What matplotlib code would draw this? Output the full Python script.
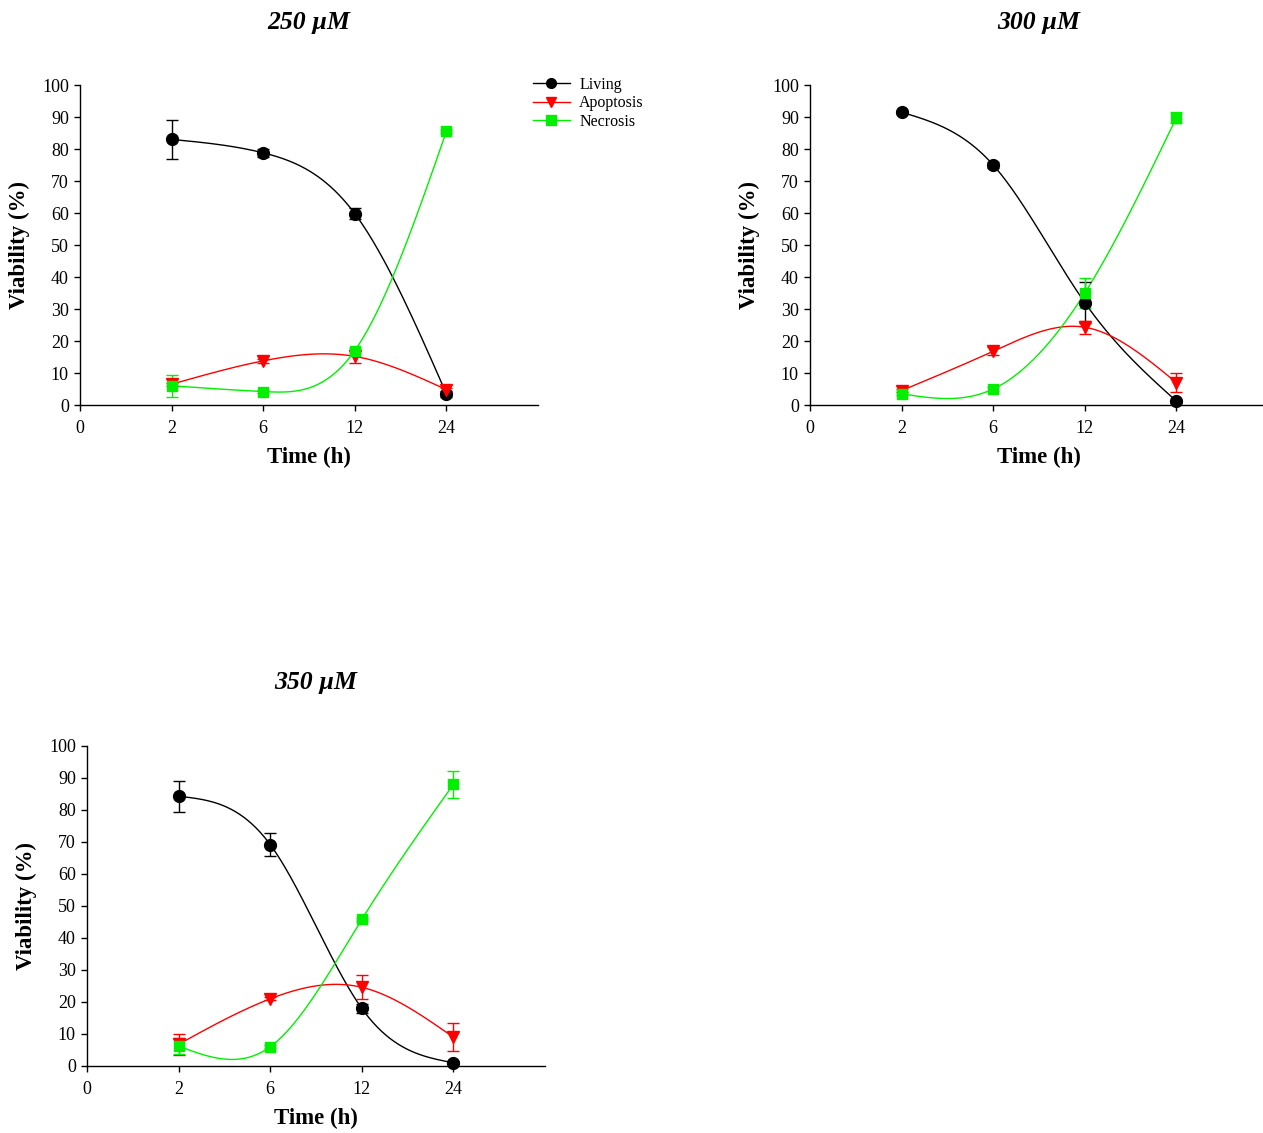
import matplotlib
matplotlib.use("Agg")
import matplotlib.pyplot as plt
import numpy as np

plt.rcParams['font.family'] = ['Liberation Serif', 'DejaVu Serif']

time_labels = ["0", "2", "6", "12", "24"]
series_names = ["Living", "Apoptosis", "Necrosis"]
series_colors = ["black", "#ff0000", "#00f000"]
series_markers = ["o", "v", "s"]

panel_titles = ["250 µM", "300 µM", "350 µM"]

# values at 2, 6, 12, 24 h
living_250 = [83.0, 78.8, 59.8, 3.5]
living_250_err = [6.0, 1.3, 1.8, 1.0]
apoptosis_250 = [6.5, 13.8, 15.2, 4.8]
apoptosis_250_err = [0.5, 0.6, 2.0, 0.6]
necrosis_250 = [6.0, 4.2, 17.0, 85.5]
necrosis_250_err = [3.5, 0.5, 0.8, 0.5]

living_300 = [91.5, 75.0, 32.0, 1.2]
living_300_err = [0.5, 0.8, 6.5, 0.5]
apoptosis_300 = [4.5, 16.8, 24.3, 7.0]
apoptosis_300_err = [0.5, 1.2, 2.0, 3.0]
necrosis_300 = [3.5, 5.0, 35.0, 89.8]
necrosis_300_err = [0.5, 0.5, 4.7, 1.8]

living_350 = [84.3, 69.2, 18.0, 1.0]
living_350_err = [4.8, 3.5, 1.5, 0.5]
apoptosis_350 = [6.8, 21.0, 24.6, 9.0]
apoptosis_350_err = [3.3, 0.5, 3.8, 4.3]
necrosis_350 = [6.2, 6.0, 45.8, 88.0]
necrosis_350_err = [2.5, 0.5, 0.5, 4.3]

panels = [
    [(living_250, living_250_err), (apoptosis_250, apoptosis_250_err), (necrosis_250, necrosis_250_err)],
    [(living_300, living_300_err), (apoptosis_300, apoptosis_300_err), (necrosis_300, necrosis_300_err)],
    [(living_350, living_350_err), (apoptosis_350, apoptosis_350_err), (necrosis_350, necrosis_350_err)],
]


def natural_spline(x, y, n=200):
    # natural cubic spline through the points, for the smooth line only
    x = np.asarray(x, float)
    y = np.asarray(y, float)
    k = len(x)
    h = np.diff(x)
    A = np.zeros((k, k))
    b = np.zeros(k)
    A[0, 0] = A[-1, -1] = 1
    for i in range(1, k - 1):
        A[i, i - 1] = h[i - 1]
        A[i, i] = 2 * (h[i - 1] + h[i])
        A[i, i + 1] = h[i]
        b[i] = 6 * ((y[i + 1] - y[i]) / h[i] - (y[i] - y[i - 1]) / h[i - 1])
    M = np.linalg.solve(A, b)
    xs = np.linspace(x[0], x[-1], n)
    idx = np.clip(np.searchsorted(x, xs) - 1, 0, k - 2)
    x0, x1 = x[idx], x[idx + 1]
    hh = x1 - x0
    a = (x1 - xs) / hh
    c = (xs - x0) / hh
    ys = (a * y[idx] + c * y[idx + 1]
          + ((a ** 3 - a) * M[idx] + (c ** 3 - c) * M[idx + 1]) * hh ** 2 / 6)
    return xs, ys


W, H = 1263, 1133
fig = plt.figure(figsize=(W / 100, H / 100), dpi=100)

# axis boxes in pixels: left edge, bottom edge (from top of image)
boxes = [(80, 405), (810, 405), (87, 1066)]
ax_w, ax_h = 458, 320

xpos = np.arange(1, 5)

for p, (left, bottom) in enumerate(boxes):
    ax = fig.add_axes([left / W, (H - bottom) / H, ax_w / W, ax_h / H])
    for s, (vals, errs) in enumerate(panels[p]):
        col = series_colors[s]
        xs, ys = natural_spline(xpos, vals)
        ax.plot(xs, ys, color=col, lw=1.0, zorder=2, clip_on=False)
        ax.errorbar(xpos, vals, yerr=errs, fmt=series_markers[s], color=col,
                    ecolor=col, elinewidth=1.0, capsize=4, capthick=1.0,
                    markersize=8.5 if s < 2 else 7.5, zorder=3, clip_on=False)
        if p == 0:
            ax.plot([], [], color=col, lw=1.0, marker=series_markers[s],
                    markersize=7, label=series_names[s])

    ax.set_xlim(0, 5)
    ax.set_ylim(0, 100)
    ax.set_xticks(range(5))
    ax.set_xticklabels(time_labels)
    ax.set_yticks(range(0, 101, 10))
    ax.spines['top'].set_visible(False)
    ax.spines['right'].set_visible(False)
    ax.spines['left'].set_linewidth(1.0)
    ax.spines['bottom'].set_linewidth(1.0)
    ax.tick_params(direction='out', length=4, width=1, labelsize=13)
    ax.tick_params(axis='x', pad=7)
    ax.tick_params(axis='y', pad=4)

    ax.text(0.5, 1 + 63 / ax_h, panel_titles[p], transform=ax.transAxes,
            ha='center', va='center', fontsize=18.5, fontweight='bold',
            fontstyle='italic')
    ax.text(0.5, -52 / ax_h, "Time (h)", transform=ax.transAxes,
            ha='center', va='center', fontsize=16.5, fontweight='bold')
    ax.text(-61 / ax_w, 0.5, "Viability (%)", transform=ax.transAxes,
            ha='center', va='center', rotation=90, fontsize=16.5,
            fontweight='bold')

    if p == 0:
        ax.legend(loc='upper left', bbox_to_anchor=((533 - 80) / ax_w, 1 + 8 / ax_h),
                  frameon=False, fontsize=11.5, handlelength=2.3,
                  handletextpad=0.6, labelspacing=0.15, borderpad=0,
                  borderaxespad=0)

fig.savefig("out.png", dpi=100)
